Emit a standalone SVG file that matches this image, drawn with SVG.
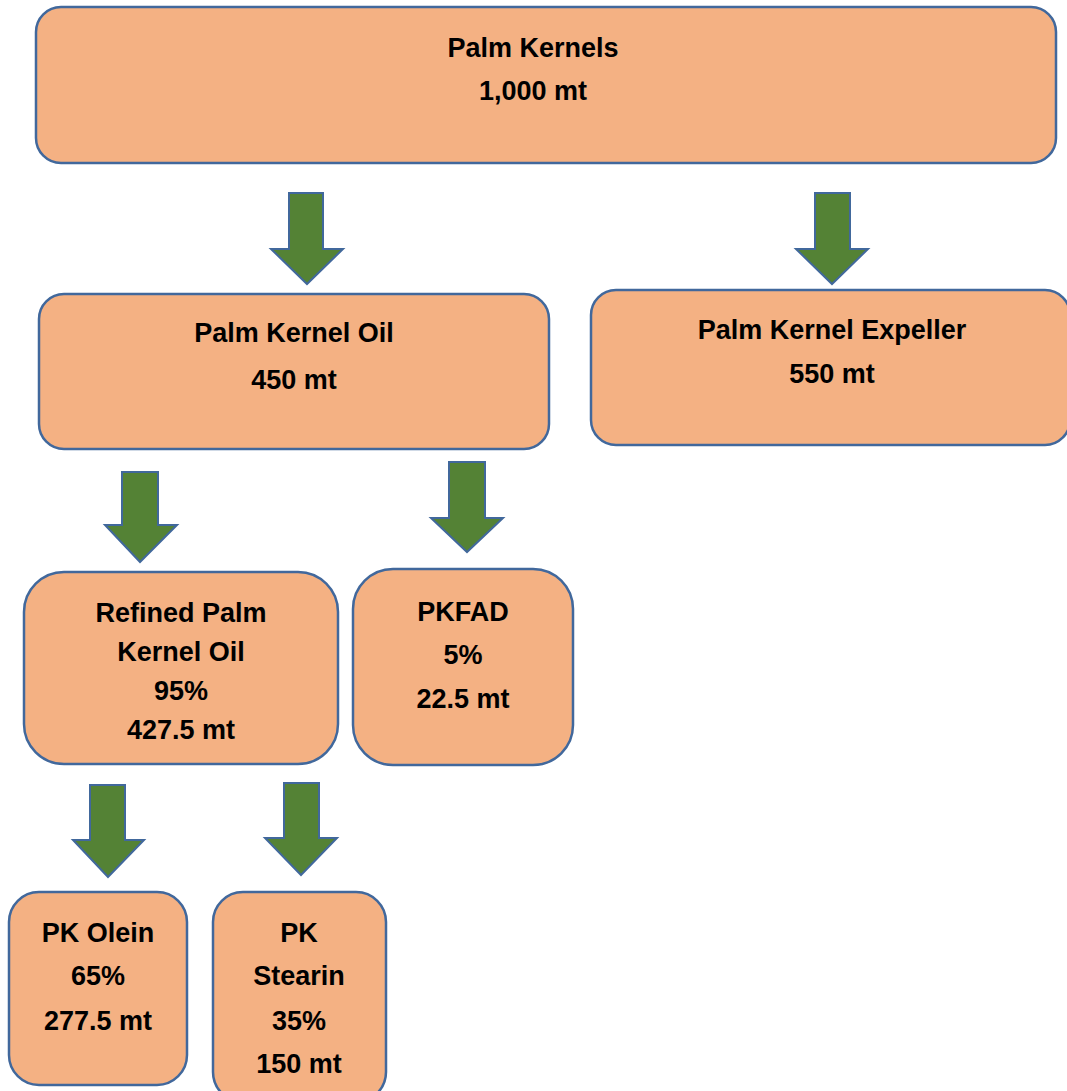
<svg xmlns="http://www.w3.org/2000/svg" width="1067" height="1091" viewBox="0 0 1067 1091">
<style>
.box{fill:#F4B183;stroke:#41689C;stroke-width:2.5}
.arr{fill:#548235;stroke:#41689C;stroke-width:2}
text{font-family:"Liberation Sans",Arial,sans-serif;font-weight:bold;font-size:27px;fill:#000;text-anchor:middle}
</style>
<rect width="1067" height="1091" fill="#fff"/>
<g id="connectors">
<polygon class="arr" points="289,193 323,193 323,249 343,249 307,284 271,249 289,249"/>
<polygon class="arr" points="815,193 850,193 850,249 868,249 832,284 796,249 815,249"/>
<polygon class="arr" points="122,472 158,472 158,525 177,525 140,562 105,525 122,525"/>
<polygon class="arr" points="449,462 485,462 485,518 503,518 467,552 431,518 449,518"/>
<polygon class="arr" points="90,785 125,785 125,840 144,840 108,877 73,840 90,840"/>
<polygon class="arr" points="284,783 319,783 319,838 337,838 301,875 265,838 284,838"/>
</g>
<g id="palm-kernels">
<rect class="box" x="36" y="7" width="1020" height="156" rx="25"/>
<text x="533" y="57">Palm Kernels</text>
<text x="533" y="100">1,000 mt</text>
</g>
<g id="pko">
<rect class="box" x="39" y="294" width="510" height="155" rx="25"/>
<text x="294" y="342">Palm Kernel Oil</text>
<text x="294" y="389">450 mt</text>
</g>
<g id="pke">
<rect class="box" x="591" y="290" width="479" height="155" rx="25"/>
<text x="832" y="339">Palm Kernel Expeller</text>
<text x="832" y="383">550 mt</text>
</g>
<g id="rpko">
<rect class="box" x="24" y="572" width="314" height="192" rx="40"/>
<text x="181" y="622">Refined Palm</text>
<text x="181" y="661">Kernel Oil</text>
<text x="181" y="700">95%</text>
<text x="181" y="739">427.5 mt</text>
</g>
<g id="pkfad">
<rect class="box" x="353" y="569" width="220" height="196" rx="40"/>
<text x="463" y="621">PKFAD</text>
<text x="463" y="664">5%</text>
<text x="463" y="708">22.5 mt</text>
</g>
<g id="pk-olein">
<rect class="box" x="9" y="892" width="178" height="193" rx="30"/>
<text x="98" y="942">PK Olein</text>
<text x="98" y="985">65%</text>
<text x="98" y="1030">277.5 mt</text>
</g>
<g id="pk-stearin">
<rect class="box" x="213" y="892" width="173" height="210" rx="30"/>
<text x="299" y="942">PK</text>
<text x="299" y="985">Stearin</text>
<text x="299" y="1030">35%</text>
<text x="299" y="1073">150 mt</text>
</g>
</svg>
